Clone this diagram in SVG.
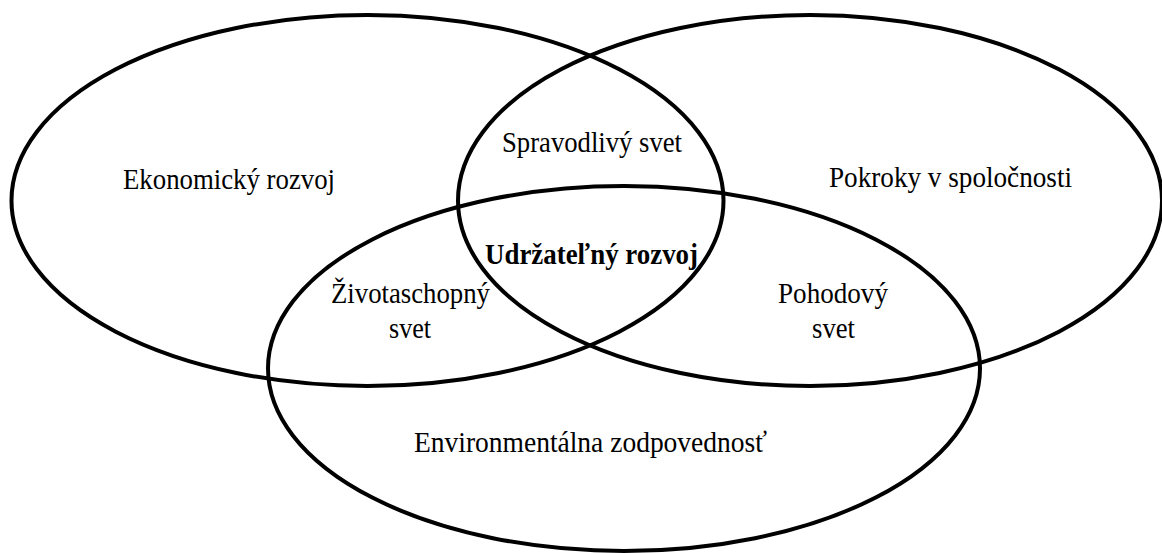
<svg xmlns="http://www.w3.org/2000/svg" width="1162" height="553" viewBox="0 0 1162 553">
  <style>
    .circle { fill: none; stroke: #000; stroke-width: 4; }
    .lbl { font-family: "Liberation Serif", "Times New Roman", serif; font-size: 29px; fill: #000; text-anchor: middle; }
    .bold { font-weight: bold; }
  </style>
  <rect x="0" y="0" width="1162" height="553" fill="#fff"/>
  <g id="ekonomicky">
    <ellipse class="circle" cx="367.5" cy="200.5" rx="356" ry="185.5"/>
    <text class="lbl" x="229" y="189" textLength="212" lengthAdjust="spacingAndGlyphs">Ekonomický rozvoj</text>
  </g>
  <g id="spolocnost">
    <ellipse class="circle" cx="810" cy="200.5" rx="352" ry="185.5"/>
    <text class="lbl" x="950.5" y="187" textLength="243" lengthAdjust="spacingAndGlyphs">Pokroky v spoločnosti</text>
  </g>
  <g id="environmentalna">
    <ellipse class="circle" cx="624" cy="368.5" rx="356" ry="182.5"/>
    <text class="lbl" x="590.5" y="452" textLength="353" lengthAdjust="spacingAndGlyphs">Environmentálna zodpovednosť</text>
  </g>
  <g id="spravodlivy">
    <text class="lbl" x="592" y="152" textLength="180" lengthAdjust="spacingAndGlyphs">Spravodlivý svet</text>
  </g>
  <g id="zivotaschopny">
    <text class="lbl" x="410.5" y="303" textLength="159" lengthAdjust="spacingAndGlyphs">Životaschopný</text>
    <text class="lbl" x="410" y="338" textLength="42" lengthAdjust="spacingAndGlyphs">svet</text>
  </g>
  <g id="pohodovy">
    <text class="lbl" x="833" y="303" textLength="110" lengthAdjust="spacingAndGlyphs">Pohodový</text>
    <text class="lbl" x="833.5" y="338" textLength="43" lengthAdjust="spacingAndGlyphs">svet</text>
  </g>
  <g id="udrzatelny">
    <text class="lbl bold" x="591.5" y="264" textLength="213" lengthAdjust="spacingAndGlyphs">Udržateľný rozvoj</text>
  </g>
  <g id="connectors"></g>
</svg>
